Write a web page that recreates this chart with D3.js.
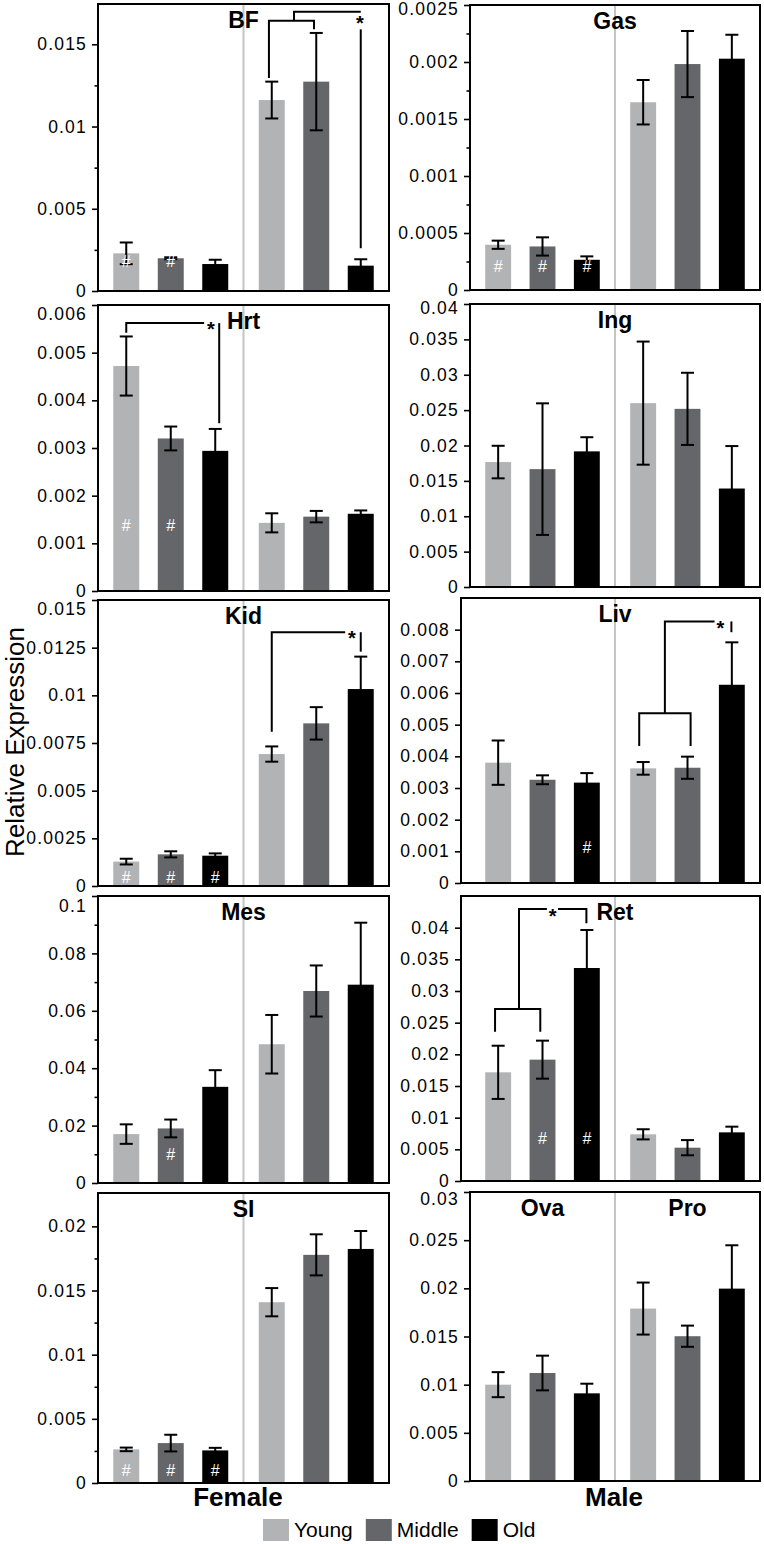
<!DOCTYPE html>
<html><head><meta charset="utf-8">
<script src="https://cdn.jsdelivr.net/npm/d3@7"></script>
<style>body{margin:0;background:#fff} svg{display:block}</style>
</head><body>
<svg id="chart" width="764" height="1544"></svg>
<script>
// ---------------- DATA ----------------
const sexes = ["Female", "Male"];
const ages = ["Young", "Middle", "Old"];
const yTitle = "Relative Expression";

// bar order: Female Young, Female Middle, Female Old, Male Young, Male Middle, Male Old
const BF_mean  = [0.00229, 0.00199, 0.00164, 0.01161, 0.01273, 0.00154];
const BF_err   = [0.00066, 0.00006, 0.00026, 0.00112, 0.00296, 0.00039];
const Gas_mean = [0.000397, 0.000382, 0.000265, 0.001647, 0.001982, 0.002029];
const Gas_err  = [0.000036, 0.00008, 0.00003, 0.000195, 0.00029, 0.00021];
const Hrt_mean = [0.00472, 0.0032, 0.00294, 0.00143, 0.00156, 0.00162];
const Hrt_err  = [0.00062, 0.00025, 0.00046, 0.0002, 0.00012, 0.00007];
const Ing_mean = [0.01766, 0.01666, 0.01917, 0.02599, 0.02518, 0.01392];
const Ing_err  = [0.0023, 0.0093, 0.002, 0.0087, 0.0051, 0.006];
const Kid_mean = [0.00128, 0.00166, 0.00159, 0.00692, 0.00853, 0.01033];
const Kid_err  = [0.00015, 0.00016, 0.00012, 0.0004, 0.00085, 0.0017];
const Liv_mean = [0.0038, 0.00326, 0.00317, 0.00362, 0.00364, 0.00626];
const Liv_err  = [0.0007, 0.00014, 0.0003, 0.0002, 0.00035, 0.00134];
const Mes_mean = [0.01704, 0.01901, 0.03351, 0.04835, 0.0669, 0.0691];
const Mes_err  = [0.0034, 0.0031, 0.0058, 0.0102, 0.0089, 0.0216];
const Ret_mean = [0.01716, 0.01916, 0.03363, 0.00737, 0.00526, 0.00768];
const Ret_err  = [0.0042, 0.003, 0.006, 0.0008, 0.0012, 0.0009];
const SI_mean  = [0.00262, 0.00311, 0.00254, 0.01409, 0.01778, 0.01824];
const SI_err   = [0.00014, 0.00065, 0.0002, 0.0011, 0.0016, 0.0014];
const OvaPro_mean = [0.01, 0.01121, 0.0091, 0.0179, 0.01503, 0.01997];
const OvaPro_err  = [0.0013, 0.0018, 0.001, 0.0027, 0.0011, 0.0045];

// axis domains and ticks
const BF_max = 0.01745,  BF_ticks = [0, 0.005, 0.01, 0.015], BF_minor = [0.0025, 0.0075, 0.0125];
const Gas_max = 0.0025,  Gas_ticks = [0, 0.0005, 0.001, 0.0015, 0.002, 0.0025], Gas_minor = [0.00025, 0.00075, 0.00125, 0.00175, 0.00225];
const Hrt_max = 0.006,   Hrt_ticks = [0, 0.001, 0.002, 0.003, 0.004, 0.005, 0.006], Hrt_minor = [];
const Ing_max = 0.04,    Ing_ticks = [0, 0.005, 0.01, 0.015, 0.02, 0.025, 0.03, 0.035, 0.04], Ing_minor = [];
const Kid_max = 0.015,   Kid_ticks = [0, 0.0025, 0.005, 0.0075, 0.01, 0.0125, 0.015], Kid_minor = [];
const Liv_max = 0.009,   Liv_ticks = [0, 0.001, 0.002, 0.003, 0.004, 0.005, 0.006, 0.007, 0.008], Liv_minor = [];
const Mes_max = 0.1,     Mes_ticks = [0, 0.02, 0.04, 0.06, 0.08, 0.1], Mes_minor = [0.01, 0.03, 0.05, 0.07, 0.09];
const Ret_max = 0.045,   Ret_ticks = [0, 0.005, 0.01, 0.015, 0.02, 0.025, 0.03, 0.035, 0.04], Ret_minor = [];
const SI_max = 0.0226,   SI_ticks = [0, 0.005, 0.01, 0.015, 0.02], SI_minor = [0.0025, 0.0075, 0.0125, 0.0175];
const OvaPro_max = 0.03, OvaPro_ticks = [0, 0.005, 0.01, 0.015, 0.02, 0.025, 0.03], OvaPro_minor = [];

// "#" marks: bar indices and value level
const BF_hash = {bars: [0, 1], at: 0.0018};
const Gas_hash = {bars: [0, 1, 2], at: 0.000206};
const Hrt_hash = {bars: [0, 1], at: 0.00138};
const Kid_hash = {bars: [0, 1, 2], at: 0.00045};
const Liv_hash = {bars: [2], at: 0.00113};
const Mes_hash = {bars: [1], at: 0.0101};
const Ret_hash = {bars: [1, 2], at: 0.00674};
const SI_hash = {bars: [0, 1, 2], at: 0.00099};

// significance brackets: points are [bar index, value]
const BF_notes = {lines: [[[2.95, 0.01295], [2.95, 0.01643], [3.95, 0.01643], [3.95, 0.01591]],
                          [[3.5, 0.01643], [3.5, 0.01698], [5, 0.01698]],
                          [[5, 0.01591], [5, 0.0026]]], stars: [[4.98, 0.01652]]};
const Hrt_notes = {lines: [[[0, 0.00542], [0, 0.00562], [1.75, 0.00562]],
                           [[2.07, 0.00562], [2.07, 0.00352]]], stars: [[1.9, 0.00557]]};
const Kid_notes = {lines: [[[3, 0.00809], [3, 0.01331], [4.65, 0.01331]],
                           [[5, 0.01331], [5, 0.01229]]], stars: [[4.8, 0.01322]]};
const Liv_notes = {lines: [[[2.93, 0.00433], [2.93, 0.00536], [4.07, 0.00536], [4.07, 0.00433]],
                           [[3.49, 0.00536], [3.49, 0.00826], [4.61, 0.00826]],
                           [[4.99, 0.00826], [4.99, 0.00792]]], stars: [[4.74, 0.00818]]};
const Ret_notes = {lines: [[[-0.07, 0.02357], [-0.07, 0.02716], [0.95, 0.02716], [0.95, 0.02357]],
                           [[0.47, 0.02716], [0.47, 0.04295], [1.1, 0.04295]],
                           [[1.35, 0.04295], [1.99, 0.04295], [1.99, 0.04069]]], stars: [[1.23, 0.04252]]};

const panels = [
  {titles: ["BF"], mean: BF_mean, err: BF_err, yMax: BF_max, ticks: BF_ticks, minor: BF_minor, hash: BF_hash, notes: BF_notes},
  {titles: ["Gas"], mean: Gas_mean, err: Gas_err, yMax: Gas_max, ticks: Gas_ticks, minor: Gas_minor, hash: Gas_hash},
  {titles: ["Hrt"], mean: Hrt_mean, err: Hrt_err, yMax: Hrt_max, ticks: Hrt_ticks, minor: Hrt_minor, hash: Hrt_hash, notes: Hrt_notes},
  {titles: ["Ing"], mean: Ing_mean, err: Ing_err, yMax: Ing_max, ticks: Ing_ticks, minor: Ing_minor},
  {titles: ["Kid"], mean: Kid_mean, err: Kid_err, yMax: Kid_max, ticks: Kid_ticks, minor: Kid_minor, hash: Kid_hash, notes: Kid_notes},
  {titles: ["Liv"], mean: Liv_mean, err: Liv_err, yMax: Liv_max, ticks: Liv_ticks, minor: Liv_minor, hash: Liv_hash, notes: Liv_notes},
  {titles: ["Mes"], mean: Mes_mean, err: Mes_err, yMax: Mes_max, ticks: Mes_ticks, minor: Mes_minor, hash: Mes_hash},
  {titles: ["Ret"], mean: Ret_mean, err: Ret_err, yMax: Ret_max, ticks: Ret_ticks, minor: Ret_minor, hash: Ret_hash, notes: Ret_notes},
  {titles: ["SI"], mean: SI_mean, err: SI_err, yMax: SI_max, ticks: SI_ticks, minor: SI_minor, hash: SI_hash},
  {titles: ["Ova", "Pro"], mean: OvaPro_mean, err: OvaPro_err, yMax: OvaPro_max, ticks: OvaPro_ticks, minor: OvaPro_minor}
];

// ---------------- LAYOUT / STYLE ----------------
const ageColors = ["#b2b3b5", "#656669", "#000000"];
const FONT = "'Liberation Sans', Arial, Helvetica, sans-serif";
const colRanges = [[98, 389], [470, 760]];
const layout = [
  {col: 0, left: 98,  top: 4,    bottom: 291,  topShift: 0},
  {col: 1, left: 470, top: 5,    bottom: 290,  topShift: 4},
  {col: 0, left: 98,  top: 305,  bottom: 591,  topShift: 9},
  {col: 1, left: 470, top: 304,  bottom: 587,  topShift: 4},
  {col: 0, left: 98,  top: 600,  bottom: 886,  topShift: 9},
  {col: 1, left: 461, top: 598,  bottom: 883,  topShift: 0},
  {col: 0, left: 98,  top: 896,  bottom: 1183, topShift: 10},
  {col: 1, left: 461, top: 896,  bottom: 1181, topShift: 0},
  {col: 0, left: 98,  top: 1193, bottom: 1483, topShift: 0},
  {col: 1, left: 470, top: 1192, bottom: 1481, topShift: 7}
];

const svg = d3.select("#chart");
const fmt = d3.format("~g");

panels.forEach((p, k) => {
  const L = layout[k];
  const range = colRanges[L.col];
  const xo = d3.scaleBand().domain(sexes).range(range);
  const xi = d3.scaleBand().domain(ages).range([0, xo.bandwidth()]).paddingInner(0.416).paddingOuter(0.343);
  const y = d3.scaleLinear().domain([0, p.yMax]).range([L.bottom, L.top]);
  const cx = i => xo(sexes[Math.floor(i / 3)]) + xi(ages[i % 3]) + xi.bandwidth() / 2;
  const xPos = t => { let i0 = Math.floor(t); i0 = Math.max(0, Math.min(4, i0)); const f = t - i0; return cx(i0) + f * (cx(i0 + 1) - cx(i0)); };
  const rows = p.mean.map((v, i) => ({i, v, e: p.err[i], sex: sexes[Math.floor(i / 3)], age: ages[i % 3]}));

  const g = svg.append("g");
  // divider
  g.append("line").attr("x1", xo("Male")).attr("x2", xo("Male"))
    .attr("y1", L.top).attr("y2", L.bottom)
    .attr("stroke", "#c4c4c4").attr("stroke-width", 2);
  // bars
  g.selectAll("rect.bar").data(rows).join("rect").attr("class", "bar")
    .attr("x", d => xo(d.sex) + xi(d.age)).attr("width", xi.bandwidth())
    .attr("y", d => y(d.v)).attr("height", d => y(0) - y(d.v))
    .attr("fill", d => ageColors[d.i % 3]);
  // error bars
  const capW = 13;
  const eb = g.selectAll("g.eb").data(rows).join("g").attr("class", "eb")
    .attr("stroke", "#000").attr("stroke-width", 2);
  eb.append("line").attr("x1", d => cx(d.i)).attr("x2", d => cx(d.i))
    .attr("y1", d => y(d.v - d.e)).attr("y2", d => y(d.v + d.e));
  eb.append("line").attr("x1", d => cx(d.i) - capW / 2).attr("x2", d => cx(d.i) + capW / 2)
    .attr("y1", d => y(d.v + d.e)).attr("y2", d => y(d.v + d.e));
  eb.append("line").attr("x1", d => cx(d.i) - capW / 2).attr("x2", d => cx(d.i) + capW / 2)
    .attr("y1", d => y(d.v - d.e)).attr("y2", d => y(d.v - d.e));
  // hash marks
  if (p.hash) {
    g.selectAll("text.hash").data(p.hash.bars).join("text").attr("class", "hash")
      .attr("x", i => cx(i)).attr("y", y(p.hash.at)).attr("dy", "0.36em")
      .attr("text-anchor", "middle").attr("fill", "#fff")
      .attr("font-family", FONT).attr("font-size", 16).text("#");
  }
  // frame
  g.append("rect").attr("x", L.left).attr("y", L.top)
    .attr("width", range[1] - L.left).attr("height", L.bottom - L.top)
    .attr("fill", "none").attr("stroke", "#000").attr("stroke-width", 2);
  // axes
  const ax = g.append("g").attr("transform", `translate(${L.left},0)`)
    .call(d3.axisLeft(y).tickValues(p.ticks).tickSize(6).tickPadding(5).tickFormat(fmt));
  ax.select(".domain").remove();
  ax.selectAll("line").attr("stroke-width", 1.6);
  ax.selectAll("text").attr("font-family", FONT).attr("font-size", 17.5)
    .attr("letter-spacing", "1.2px").attr("fill", "#000");
  const topTick = p.ticks[p.ticks.length - 1];
  ax.selectAll(".tick").filter(d => d === topTick).select("text")
    .attr("transform", `translate(0,${L.topShift})`);
  if (p.minor.length) {
    const mx = g.append("g").attr("transform", `translate(${L.left},0)`)
      .call(d3.axisLeft(y).tickValues(p.minor).tickSize(3.5).tickFormat(""));
    mx.select(".domain").remove();
    mx.selectAll("line").attr("stroke-width", 1.6);
  }
  // titles
  const tx = p.titles.length === 1 ? [xo("Male")] : sexes.map(s => xo(s) + xo.bandwidth() / 2);
  p.titles.forEach((t, j) => {
    g.append("text").attr("x", tx[j]).attr("y", L.top + 24).attr("text-anchor", "middle")
      .attr("font-family", FONT).attr("font-weight", "bold").attr("font-size", 23).text(t);
  });
  // significance notes
  if (p.notes) {
    const line = d3.line().x(d => xPos(d[0])).y(d => y(d[1]));
    g.selectAll("path.note").data(p.notes.lines).join("path").attr("class", "note")
      .attr("d", line).attr("fill", "none").attr("stroke", "#000").attr("stroke-width", 2);
    g.selectAll("text.star").data(p.notes.stars).join("text").attr("class", "star")
      .attr("x", d => xPos(d[0])).attr("y", d => y(d[1]) + 11)
      .attr("text-anchor", "middle").attr("font-family", FONT).attr("font-weight", "bold")
      .attr("font-size", 20).text("*");
  }
});

// x labels under bottom row
const xLabelX = [238, 614];
sexes.forEach((s, j) => {
  svg.append("text").attr("x", xLabelX[j]).attr("y", 1506).attr("text-anchor", "middle")
    .attr("font-family", FONT).attr("font-weight", "bold").attr("font-size", 26).text(s);
});

// y title
svg.append("text").attr("transform", "translate(24,742) rotate(-90)")
  .attr("text-anchor", "middle").attr("font-family", FONT).attr("font-size", 26)
  .text(yTitle);

// legend
let lx = 263;
ages.forEach((a, j) => {
  svg.append("rect").attr("x", lx).attr("y", 1519).attr("width", 26).attr("height", 22)
    .attr("fill", ageColors[j]);
  const t = svg.append("text").attr("x", lx + 31).attr("y", 1537)
    .attr("font-family", FONT).attr("font-size", 21).text(a);
  lx += 31 + t.node().getComputedTextLength() + 13;
});
</script>
</body></html>
